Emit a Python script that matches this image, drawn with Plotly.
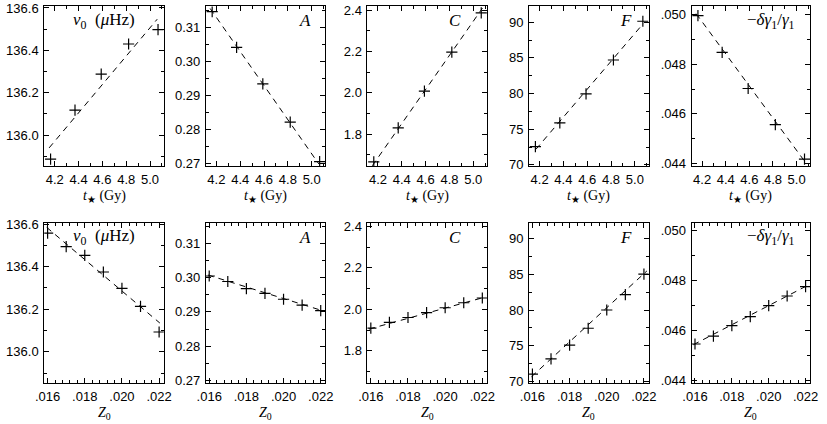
import plotly.graph_objects as go
from plotly.subplots import make_subplots

# x values: stellar age (top row) and initial metallicity (bottom row)
T_STAR = [4.165, 4.37, 4.59, 4.82, 5.067]
Z0 = [0.016, 0.017, 0.018, 0.019, 0.020, 0.021, 0.022]

# top row, parameters vs t*
NU0_T = [135.887, 136.118, 136.288, 136.430, 136.498]
A_T = [0.3146, 0.3041, 0.2934, 0.2822, 0.2706]
C_T = [1.667, 1.831, 2.009, 2.197, 2.387]
F_T = [72.57, 75.9, 79.96, 84.7, 90.13]
DG_T = [0.04996, 0.04848, 0.04702, 0.04556, 0.04417]

# bottom row, parameters vs Z0
NU0_Z = [136.558, 136.494, 136.453, 136.375, 136.298, 136.213, 136.093]
A_Z = [0.3005, 0.2989, 0.2968, 0.2954, 0.2937, 0.2920, 0.2904]
C_Z = [1.910, 1.937, 1.961, 1.984, 2.008, 2.032, 2.055]
F_Z = [71.04, 73.18, 75.09, 77.45, 80.0, 82.14, 85.0]
DG_Z = [0.04545, 0.04577, 0.04619, 0.04655, 0.04699, 0.04738, 0.04776]

# dashed fit lines (end points)
FIT_T_X = {
    'nu0': [4.153, 5.06], 'A': [4.148, 5.06], 'C': [4.153, 5.077],
    'F': [4.17, 5.07], 'dg': [4.15, 5.07],
}
FIT_T_Y = {
    'nu0': [135.94, 136.547], 'A': [0.3155, 0.2699], 'C': [1.648, 2.41],
    'F': [72.2, 89.8], 'dg': [0.05004, 0.04407],
}
FIT_Z_X = {
    'nu0': [0.01595, 0.02204], 'A': [0.01593, 0.02207], 'C': [0.0159, 0.02218],
    'F': [0.01595, 0.02216], 'dg': [0.01591, 0.02217],
}
FIT_Z_Y = {
    'nu0': [136.585, 136.135], 'A': [0.3008, 0.2904], 'C': [1.905, 2.060],
    'F': [70.68, 85.46], 'dg': [0.04542, 0.04783],
}

KEYS = ['nu0', 'A', 'C', 'F', 'dg']
LABELS = [
    '<i>ν</i><sub>0</sub>  (<i>μ</i>Hz)',
    '<i>A</i>',
    '<i>C</i>',
    '<i>F</i>',
    '−<i>δγ</i><sub>1</sub>/<i>γ</i><sub>1</sub>',
]
X_TITLES = ['<i>t</i><sub>★</sub> (Gy)', '<i>Z</i><sub>0</sub>']

Z_TICKS = [0.016, 0.018, 0.020, 0.022]
Z_TICKTEXT = ['.016', '.018', '.020', '.022']
DG_TICKS = [0.044, 0.046, 0.048, 0.050]
DG_TICKTEXT = ['.044', '.046', '.048', '.050']

W, H = 827, 424
PANEL_X = [(36, 158), (201, 323), (366, 488), (531, 653), (697, 818)]
ROW_Y = [(0.5, 165), (223, 388)]
TITLE_Y = [196, 419]

TICK_FONT = dict(family='Liberation Sans', size=13, color='black')
TITLE_FONT = dict(family='Liberation Serif', size=14, color='black')
LABEL_FONT = dict(family='Liberation Serif', size=17, color='black')

fig = make_subplots(rows=2, cols=5)

top_series = [NU0_T, A_T, C_T, F_T, DG_T]
bot_series = [NU0_Z, A_Z, C_Z, F_Z, DG_Z]

for c, key in enumerate(KEYS):
    for r, (xs, ys, fx, fy) in enumerate([
        (T_STAR, top_series[c], FIT_T_X[key], FIT_T_Y[key]),
        (Z0, bot_series[c], FIT_Z_X[key], FIT_Z_Y[key]),
    ]):
        fig.add_trace(
            go.Scatter(
                x=fx, y=fy, mode='lines', showlegend=False,
                line=dict(color='black', width=1, dash='6px,5px'),
            ),
            row=r + 1, col=c + 1,
        )
        fig.add_trace(
            go.Scatter(
                x=xs, y=ys, mode='markers', showlegend=False,
                marker=dict(symbol='cross-thin', size=8, color='black',
                            line=dict(color='black', width=1.2)),
            ),
            row=r + 1, col=c + 1,
        )

y_axes = [
    dict(range=[135.853, 136.607], dtick=0.2, tick0=136.0, tickformat='.1f',
         minor=dict(dtick=0.1, tick0=136.0)),
    dict(range=[0.2692, 0.3161], dtick=0.01, tick0=0.27, tickformat='.2f',
         minor=dict(dtick=0.005, tick0=0.27)),
    dict(range=[1.645, 2.418], dtick=0.2, tick0=1.8, tickformat='.1f',
         minor=dict(dtick=0.1, tick0=1.8)),
    dict(range=[69.8, 92.2], dtick=5, tick0=70, tickformat='d',
         minor=dict(dtick=2.5, tick0=70)),
    dict(range=[0.04388, 0.05033], tickmode='array', tickvals=DG_TICKS,
         ticktext=DG_TICKTEXT, minor=dict(tickmode='linear', dtick=0.001, tick0=0.044)),
]

common = dict(
    showline=True, linecolor='black', linewidth=1, mirror='allticks',
    ticks='inside', ticklen=5, tickcolor='black', tickwidth=1,
    showgrid=False, zeroline=False, tickfont=TICK_FONT,
)

for r in range(2):
    y0, y1 = ROW_Y[r]
    ydom = [1 - y1 / H, 1 - y0 / H]
    for c in range(5):
        x0, x1 = PANEL_X[c]
        idx = r * 5 + c + 1
        xname = 'xaxis' if idx == 1 else f'xaxis{idx}'
        yname = 'yaxis' if idx == 1 else f'yaxis{idx}'
        if r == 0:
            xa = dict(range=[4.112, 5.115], dtick=0.2, tick0=4.2, tickformat='.1f',
                      minor=dict(dtick=0.1, tick0=4.2))
        else:
            xa = dict(range=[0.01582, 0.02225], tickmode='array', tickvals=Z_TICKS,
                      ticktext=Z_TICKTEXT,
                      minor=dict(tickmode='linear', dtick=0.0004, tick0=0.016))
        xa['minor'].update(ticks='inside', ticklen=3, tickcolor='black', showgrid=False)
        ya = dict(y_axes[c])
        ya['minor'] = dict(ya['minor'], ticks='inside', ticklen=3, tickcolor='black',
                           showgrid=False)
        fig.update_layout({
            xname: dict(common, domain=[x0 / W, x1 / W], ticklabelstandoff=1,
                        ticklabeloverflow='allow', **xa),
            yname: dict(common, domain=ydom, ticklabelstandoff=2, **ya),
        })
        # x axis title as paper annotation for exact placement
        fig.add_annotation(
            text=X_TITLES[r], xref='paper', yref='paper',
            x=(x0 + x1) / 2 / W, y=1 - TITLE_Y[r] / H,
            xanchor='center', yanchor='middle', showarrow=False, font=TITLE_FONT,
        )

# panel labels
label_pos = [(0.5, 'center'), (0.9, 'right'), (0.8, 'right'), (0.88, 'right'), (0.89, 'right')]
for r in range(2):
    for c in range(5):
        idx = r * 5 + c + 1
        sfx = '' if idx == 1 else str(idx)
        xpos, anchor = label_pos[c]
        fig.add_annotation(
            text=LABELS[c], xref=f'x{sfx} domain', yref=f'y{sfx} domain',
            x=xpos, y=0.91, xanchor=anchor, yanchor='middle',
            showarrow=False, font=LABEL_FONT,
        )

fig.update_layout(
    width=W, height=H,
    margin=dict(l=0, r=0, t=0, b=0),
    paper_bgcolor='white', plot_bgcolor='white',
    showlegend=False,
)

# the page body has a default 8px margin; drop it so the figure fills the window
fig.write_html('out.html', config={'displayModeBar': False},
               post_script="document.body.style.margin='0';")
